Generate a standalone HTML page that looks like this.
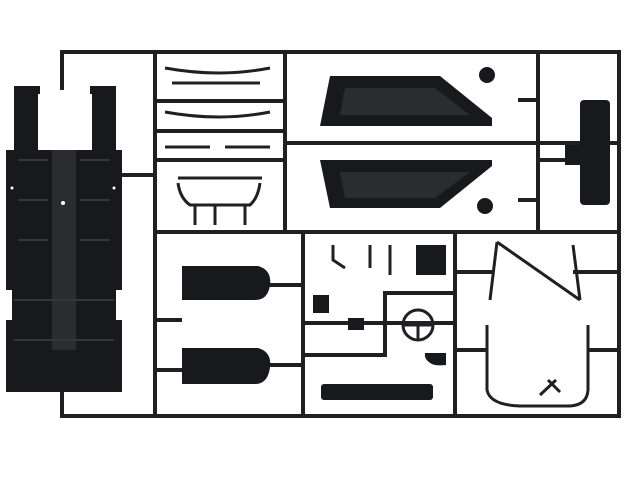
<!DOCTYPE html>
<html><head><style>html,body{margin:0;padding:0;background:#fff;width:640px;height:480px;overflow:hidden}</style></head>
<body>
<svg width="640" height="480" viewBox="0 0 640 480" xmlns="http://www.w3.org/2000/svg">
<rect width="640" height="480" fill="#fff"/>
<g stroke="#1e2024" stroke-width="4" fill="none" stroke-linecap="square">
<path d="M62 88 V52 H619 V416 H62 V392"/>
<path d="M155 52 V416"/>
<path d="M285 52 V232"/>
<path d="M538 52 V232"/>
<path d="M285 143 H619"/>
<path d="M155 232 H619"/>
<path d="M303 232 V416"/>
<path d="M455 232 V416"/>
<path d="M155 101 H285 M155 131 H285 M155 160 H285"/>
<path d="M122 175 H155"/>
<path d="M303 323 H455 M385 293 H455 M385 293 V355 M303 355 H385"/>
<path d="M155 320 H180 M270 285 H303 M155 370 H180 M270 365 H303"/>
<path d="M455 272 H490 M575 272 H619 M455 350 H485 M590 350 H619"/>
<path d="M538 160 H580 M520 100 H538 M520 200 H538"/>
</g>
<g fill="#18191c">
<path d="M14 86 H40 V95 H90 V86 H116 V150 H122 V290 H116 V320 H122 V392 H6 V320 H12 V290 H6 V150 H14 Z"/>
<rect x="38" y="94" width="54" height="56" fill="#fff"/>
<rect x="52" y="150" width="24" height="200" fill="#2a2c30"/>
<path d="M18 160 H48 M18 200 H48 M80 160 H110 M80 200 H110 M18 240 H48 M80 240 H110 M14 300 H114 M14 340 H114" stroke="#33363b" stroke-width="2"/>
<circle cx="12" cy="188" r="1.5" fill="#fff"/><circle cx="114" cy="188" r="1.5" fill="#fff"/><circle cx="63" cy="203" r="2" fill="#fff"/>
</g>
<g stroke="#1e2024" stroke-width="3" fill="none">
<path d="M165 68 Q220 78 270 68"/>
<path d="M172 83 H260"/>
<path d="M165 112 Q220 122 270 112"/>
<path d="M165 147 H210 M225 147 H270"/>
<path d="M178 183 Q180 198 190 205 H250 Q258 198 260 183 M178 178 H262"/>
<path d="M215 205 V225 M195 205 V225 M245 205 V225"/>
</g>
<g fill="#18191c">
<path d="M330 76 H440 L492 118 V126 H320 Z"/>
<path d="M345 88 H435 L470 115 H340 Z" fill="#2a2c30"/>
<path d="M320 160 H492 V166 L440 208 H330 Z"/>
<path d="M340 172 H470 L435 198 H345 Z" fill="#2a2c30"/>
<rect x="580" y="100" width="30" height="105" rx="4"/>
<rect x="565" y="145" width="18" height="20"/>
<circle cx="487" cy="75" r="8"/><circle cx="485" cy="206" r="8"/>
<path d="M182 266 H258 Q272 270 270 285 Q268 300 255 300 H182 Z"/>
<path d="M182 348 H258 Q272 352 270 367 Q268 384 255 384 H182 Z"/>
<rect x="416" y="245" width="30" height="30"/>
<rect x="313" y="295" width="16" height="18"/>
<rect x="348" y="318" width="16" height="12"/>
<rect x="321" y="384" width="112" height="16" rx="3"/>
<path d="M425 353 H446 V365 Q436 366 432 364 Q424 360 425 353Z"/>
</g>
<g stroke="#1e2024" stroke-width="3" fill="none">
<circle cx="418" cy="325" r="15"/>
<path d="M404 325 H432 M418 325 V340"/>
<path d="M497 242 L490 300 M497 242 L580 300 M573 245 L580 300"/>
<path d="M487 325 V390 Q490 405 520 406 H570 Q587 405 588 390 V325"/>
<path d="M540 395 L556 380 M548 380 L560 392"/>
<path d="M333 245 V260 L345 268 M370 245 V268 M390 245 V275"/>
</g>
</svg>
</body></html>
